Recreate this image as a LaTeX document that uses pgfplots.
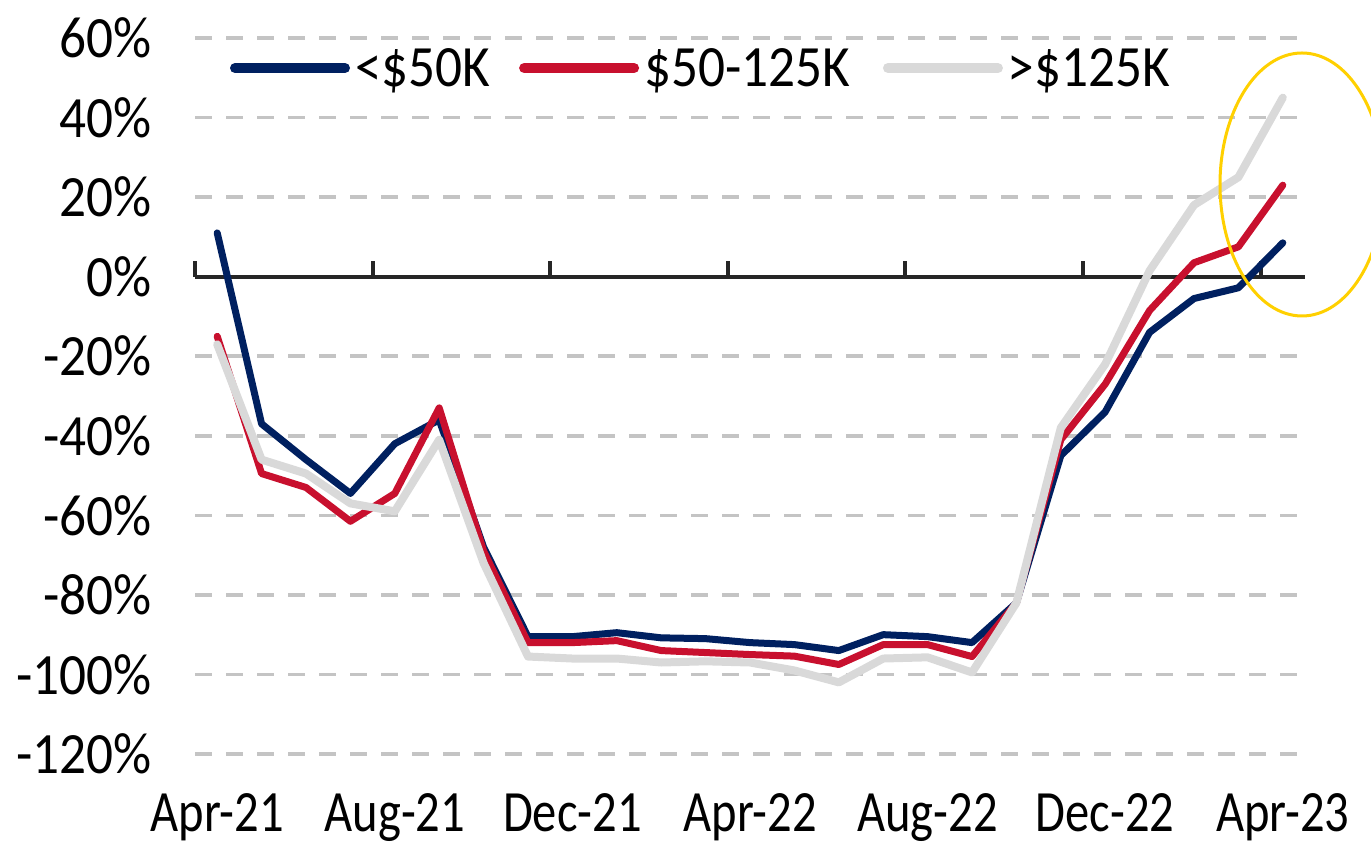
\documentclass[border=0pt]{standalone}
\usepackage{pgfplots}
\pgfplotsset{compat=1.18}
\usepackage{pgfplotstable}
\usepackage{fontspec}
\setmainfont[FakeStretch=0.83]{Carlito}
\newfontfamily\wideCarlito[FakeStretch=0.91]{Carlito}
\definecolor{cblue}{RGB}{0,32,96}
\definecolor{cred}{RGB}{200,16,46}
\definecolor{cgray}{RGB}{217,217,217}
\definecolor{cgrid}{RGB}{196,196,196}
\definecolor{caxis}{RGB}{38,38,38}
\definecolor{cgold}{RGB}{255,208,0}
\newcommand\lblfont{\fontsize{58.5pt}{60pt}\selectfont}
\newcommand\widefont{\wideCarlito\fontsize{58.5pt}{60pt}\selectfont}

\pgfplotstableread{
i  low    mid    high
0  11     -15    -17
1  -37    -49.5  -46
2  -46    -53    -49.5
3  -54.5  -61.5  -57
4  -42    -54.5  -59
5  -36    -33    -41
6  -68    -69    -72
7  -90.5  -92    -95.5
8  -90.5  -92    -96
9  -89.5  -91.5  -96
10 -90.8  -94    -97
11 -91    -94.5  -96.7
12 -92    -95    -97
13 -92.5  -95.4  -99
14 -94    -97.5  -102
15 -90    -92.5  -96
16 -90.5  -92.5  -95.7
17 -92    -95.5  -99.5
18 -82    -82    -82
19 -45    -41    -38
20 -34    -27    -22
21 -14    -8.5   1.5
22 -5.5   3.5    18
23 -2.8   7.5    25
24 8.5    23     45
}\data

\begin{document}
\begin{tikzpicture}[x=1pt,y=1pt]
\path (0,0) rectangle (1371,845);
\begin{axis}[
  at={(195pt,91pt)}, anchor=south west,
  scale only axis, width=1110pt, height=716pt,
  xmin=-0.5, xmax=24.5, ymin=-120, ymax=60,
  axis lines*=left,
  axis line style={draw=none},
  tick style={draw=none},
  clip=false,
  ytick={-120,-100,-80,-60,-40,-20,0,20,40,60},
  yticklabels={-120\%,-100\%,-80\%,-60\%,-40\%,-20\%,0\%,20\%,40\%,60\%},
  xtick={0,4,8,12,16,20,24},
  xticklabels={Apr-21,Aug-21,Dec-21,Apr-22,Aug-22,Dec-22,Apr-23},
  ticklabel style={inner sep=0pt, text=black},
  yticklabel style={font=\widefont, anchor=east, xshift=-43pt},
  xticklabel style={font=\lblfont, anchor=north, yshift=-39pt},
  ymajorgrids,
  grid style={cgrid, line width=3.5pt, dash pattern=on 17pt off 14pt},
  legend style={draw=none, fill=none, inner sep=0pt, outer sep=0pt,
    at={(axis description cs:0,0.958)}, anchor=west, xshift=35pt,
    column sep=0pt, font=\widefont,
    nodes={inner sep=0pt, anchor=west}},
  legend columns=3,
  legend image code/.code={\draw[#1, line width=10pt, line cap=round] (5pt,0pt) -- (115pt,0pt);},
  every axis plot/.append style={line join=round, line cap=round},
]
\draw[caxis, line width=4pt] (axis cs:-0.5,0) -- (axis cs:24.5,0);
\pgfplotsinvokeforeach{-0.5,3.5,7.5,11.5,15.5,19.5,23.5}{
  \draw[caxis, line width=4pt] (axis cs:#1,0) -- ++(0pt,16pt);
}
\addplot[cblue, line width=7pt] table[x=i, y=low] {\data};
\addlegendentry{\hspace*{5pt}<\$50K\hspace*{29pt}}
\addplot[cred, line width=7pt] table[x=i, y=mid] {\data};
\addlegendentry{\hspace*{5pt}\$50-125K\hspace*{33pt}}
\addplot[cgray, line width=8pt] table[x=i, y=high] {\data};
\addlegendentry{\hspace*{5pt}>\$125K}
\end{axis}
\begin{scope}
\clip (0,0) rectangle (1371,845);
\draw[cgold, line width=3pt] (1302,660.5) ellipse [x radius=82, y radius=131.5];
\end{scope}
\pgfresetboundingbox
\path[use as bounding box] (0,0) rectangle (1371,845);
\end{tikzpicture}
\end{document}
